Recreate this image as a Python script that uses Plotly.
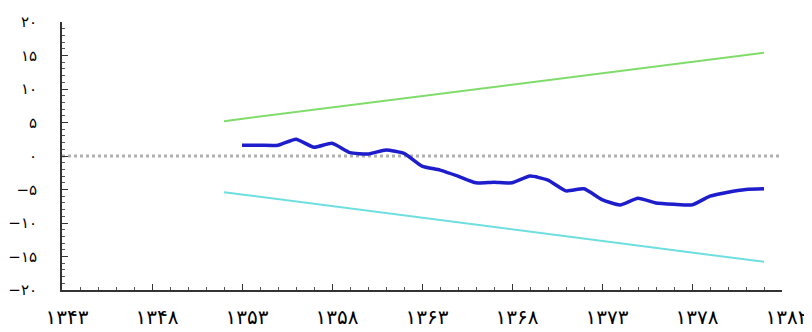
import plotly.graph_objects as go

# Years (x) and values
blue_years = list(range(1353, 1383))
blue_values = [1.6, 1.6, 1.6, 2.5, 1.3, 1.9, 0.5, 0.3, 0.9, 0.4,
               -1.5, -2.1, -3.0, -4.0, -3.9, -4.0, -3.0, -3.6, -5.2, -4.9,
               -6.5, -7.3, -6.3, -7.0, -7.2, -7.3, -6.0, -5.4, -5.0, -4.9]

upper_years = [1352, 1382]
upper_values = [5.2, 15.4]
lower_years = [1352, 1382]
lower_values = [-5.4, -15.8]

zero_years = [1343, 1383]
zero_values = [0, 0]

x_tickvals = [1343, 1348, 1353, 1358, 1363, 1368, 1373, 1378, 1383]
x_ticktext = ['۱۳۴۳', '۱۳۴۸', '۱۳۵۳', '۱۳۵۸', '۱۳۶۳', '۱۳۶۸', '۱۳۷۳', '۱۳۷۸', '۱۳۸۲']
y_tickvals = [20, 15, 10, 5, 0, -5, -10, -15, -20]
y_ticktext = ['۲۰', '۱۵', '۱۰', '۵', '۰', '−۵', '−۱۰', '−۱۵', '−۲۰']

fig = go.Figure()
fig.add_trace(go.Scatter(x=zero_years, y=zero_values, mode='lines',
                         line=dict(color='#b0b0b0', width=3, dash='dot'),
                         hoverinfo='skip'))
fig.add_trace(go.Scatter(x=upper_years, y=upper_values, mode='lines',
                         line=dict(color='#7fdc6a', width=2)))
fig.add_trace(go.Scatter(x=lower_years, y=lower_values, mode='lines',
                         line=dict(color='#6fdede', width=2)))
fig.add_trace(go.Scatter(x=blue_years, y=blue_values, mode='lines',
                         line=dict(color='#1d1dcc', width=3.5, shape='spline', smoothing=0.5)))

# page body has an 8px margin, so the figure is offset by 8px
fig.update_layout(
    width=804, height=324,
    margin=dict(l=54, r=30, t=14, b=42, autoexpand=False),
    paper_bgcolor='white', plot_bgcolor='white',
    showlegend=False,
    font=dict(family='DejaVu Sans', color='black'),
)
fig.update_xaxes(range=[1343, 1383], tickvals=x_tickvals, ticktext=x_ticktext,
                 showgrid=False, zeroline=False, showline=True, linecolor='#333', linewidth=2,
                 ticks='inside', ticklen=6, tickcolor='#333',
                 minor=dict(ticks='inside', dtick=1, ticklen=3, tickcolor='#555'),
                 tickfont=dict(family='DejaVu Sans', size=20, color='black'),
                 ticklabelstandoff=8, ticklabelshift=5)
fig.update_yaxes(range=[-20, 20], tickvals=y_tickvals, ticktext=y_ticktext,
                 showgrid=False, zeroline=False, showline=True, linecolor='#333', linewidth=2,
                 ticks='inside', ticklen=6, tickcolor='#333',
                 minor=dict(ticks='inside', dtick=1, ticklen=3, tickcolor='#555'),
                 tickfont=dict(family='DejaVu Sans', size=15, color='black'), ticklabelstandoff=20)

fig.write_html('out.html')
